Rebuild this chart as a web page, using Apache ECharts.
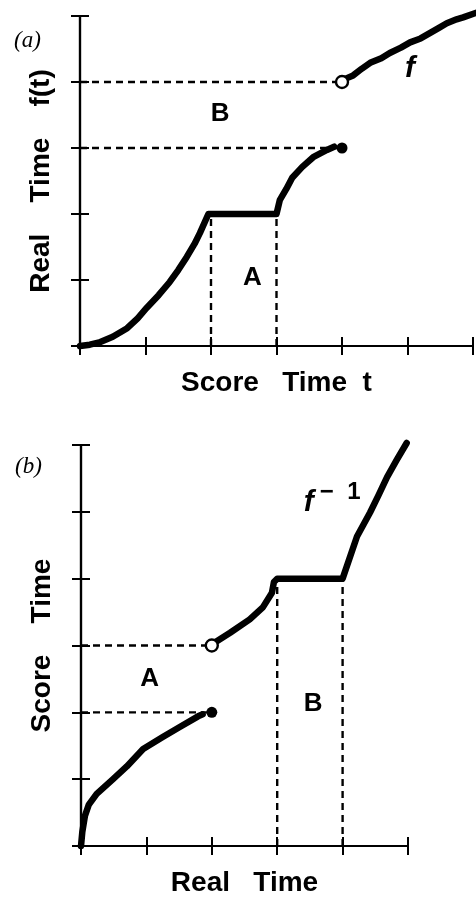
<!DOCTYPE html>
<html><head><meta charset="utf-8">
<script src="https://cdn.jsdelivr.net/npm/echarts@6/dist/echarts.min.js"></script>
<style>html,body{margin:0;padding:0;background:#fff}#c{width:476px;height:898px}</style>
</head><body><div id="c"></div>
<script>
// ---- Panel (a): f(t), Real Time vs Score Time ----
const aCurveLow = [[0,0],[0.15,0.02],[0.31,0.06],[0.5,0.14],[0.72,0.27],[0.88,0.42],[1.02,0.58],[1.2,0.77],[1.37,0.97],[1.5,1.15],[1.63,1.35],[1.75,1.55],[1.83,1.71],[1.96,2.0],[3.0,2.0],[3.05,2.21],[3.15,2.38],[3.24,2.55],[3.39,2.71],[3.56,2.86],[3.77,2.97],[3.88,3.02]];
const aCurveHigh = [[4.03,4.04],[4.17,4.1],[4.3,4.2],[4.43,4.29],[4.6,4.36],[4.73,4.44],[4.9,4.52],[5.04,4.6],[5.2,4.66],[5.34,4.74],[5.48,4.82],[5.6,4.89],[5.75,4.95],[5.85,4.98],[6.05,5.05]];
const aFilled = [[4,3]];
const aOpen = [[4,4]];
const aGuides = [[[0,4],[4,4]],[[0,3],[4,3]],[[2,0],[2,2]],[[3,0],[3,2]]];
const aLabels = [{pos:[2.14,3.52],text:'B'},{pos:[2.63,1.03],text:'A'}];
const aFuncLabel = {pos:[5.04,4.2],text:'f'};
const aXTicks = [0,6,1];   // min, max, interval
const aYTicks = [0,5,1];
const aXName = 'Score   Time  t';
const aYName = 'Real    Time    f(t)';

// ---- Panel (b): f^-1, Score Time vs Real Time ----
const bCurveLow = [[0,0],[0.02,0.21],[0.06,0.45],[0.12,0.62],[0.24,0.78],[0.49,1.0],[0.7,1.19],[0.95,1.45],[1.25,1.63],[1.51,1.78],[1.79,1.94],[1.86,1.97]];
const bCurveHigh = [[2.04,3.04],[2.28,3.19],[2.58,3.39],[2.78,3.57],[2.92,3.79],[2.95,3.95],[3.0,4.0],[4.0,4.0],[4.22,4.63],[4.42,4.99],[4.55,5.25],[4.68,5.52],[4.83,5.78],[4.98,6.03]];
const bFilled = [[2,2]];
const bOpen = [[2,3]];
const bGuides = [[[0,3],[2,3]],[[0,2],[2,2]],[[3,0],[3,4]],[[4,0],[4,4]]];
const bLabels = [{pos:[1.05,2.5],text:'A'},{pos:[3.55,2.12],text:'B'}];
const bFuncLabel = {pos:[3.84,5.14],text:'f'};
const bXTicks = [0,5,1];
const bYTicks = [0,6,1];
const bXName = 'Real   Time';
const bYName = 'Score    Time';

const FONT = 'Liberation Sans';
const nameStyle = {fontFamily: FONT, fontWeight: 'bold', fontSize: 28, color: '#000'};

function axesFor(grid, xt, yt, xName, yName) {
  const xBase = {type:'value', gridIndex: grid, min: xt[0], max: xt[1], interval: xt[2], position:'bottom',
    axisLabel:{show:false}, splitLine:{show:false}};
  const yBase = {type:'value', gridIndex: grid, min: yt[0], max: yt[1], interval: yt[2], position:'left',
    axisLabel:{show:false}, splitLine:{show:false}};
  const line = {show:true, lineStyle:{color:'#000', width:2.2}};
  const xs = [
    Object.assign({}, xBase, {axisLine: line,
      axisTick:{show:true, inside:false, length:9, lineStyle:{color:'#000', width:2}},
      name: xName, nameLocation:'middle', nameGap: 23, nameTextStyle: Object.assign({verticalAlign:'top'}, nameStyle)}),
    Object.assign({}, xBase, {axisLine: line,
      axisTick:{show:true, inside:true, length:9, lineStyle:{color:'#000', width:2}}})
  ];
  const ys = [
    Object.assign({}, yBase, {axisLine: line,
      axisTick:{show:true, inside:false, length:9, lineStyle:{color:'#000', width:2}},
      name: yName, nameLocation:'middle', nameGap: 25, nameTextStyle: nameStyle}),
    Object.assign({}, yBase, {axisLine: line,
      axisTick:{show:true, inside:true, length:9, lineStyle:{color:'#000', width:2}}})
  ];
  return {xs, ys};
}

const A = axesFor(0, aXTicks, aYTicks, aXName, aYName);
const B = axesFor(1, bXTicks, bYTicks, bXName, bYName);

const series = [];
function addPanel(xi, yi, guides, low, high, filled, open, labels, funcLabel, rich) {
  guides.forEach(g => series.push({type:'line', xAxisIndex: xi, yAxisIndex: yi, data: g, symbol:'none',
    lineStyle:{color:'#000', width:2.4, type:[7,5]}, z:2, silent:true, animation:false}));
  [low, high].forEach(c => series.push({type:'line', xAxisIndex: xi, yAxisIndex: yi, data: c, symbol:'none',
    clip:false, lineStyle:{color:'#000', width:6.5, cap:'round', join:'round'}, z:4, animation:false}));
  series.push({type:'scatter', xAxisIndex: xi, yAxisIndex: yi, data: filled, symbol:'circle', symbolSize: 11,
    itemStyle:{color:'#000', opacity:1}, z:5, animation:false});
  series.push({type:'scatter', xAxisIndex: xi, yAxisIndex: yi, data: open, symbol:'circle', symbolSize: 12,
    itemStyle:{color:'#fff', borderColor:'#000', borderWidth:2.4, opacity:1}, z:6, animation:false});
  series.push({type:'scatter', xAxisIndex: xi, yAxisIndex: yi, symbolSize: 0, animation:false, itemStyle:{opacity:1},
    data: labels.map(l => ({value: l.pos, name: l.text})),
    label:{show:true, position:'inside', formatter: p => p.name, fontFamily: FONT, fontWeight:'bold', fontSize: 26, color:'#000'}});
  series.push({type:'scatter', xAxisIndex: xi, yAxisIndex: yi, symbolSize: 0, animation:false, itemStyle:{opacity:1},
    data: [{value: funcLabel.pos, name: funcLabel.text}],
    label:{show:true, position:'inside', formatter: rich ? '{f|f}{s|−  1}' : '{f|f}', color:'#000',
      rich:{f:{fontFamily: FONT, fontWeight:'bold', fontStyle:'italic', fontSize: 30, color:'#000'},
            s:{fontFamily: FONT, fontWeight:'bold', fontSize: 24, color:'#000', padding:[0,0,20,6]}}}});
}
addPanel(0, 0, aGuides, aCurveLow, aCurveHigh, aFilled, aOpen, aLabels, aFuncLabel, false);
addPanel(2, 2, bGuides, bCurveLow, bCurveHigh, bFilled, bOpen, bLabels, bFuncLabel, true);

const chart = echarts.init(document.getElementById('c'), null, {renderer:'canvas'});
chart.setOption({
  backgroundColor:'#fff',
  animation:false,
  title:[
    {text:'(a)', left: 9, top: 24, textStyle:{fontFamily:'Liberation Serif', fontStyle:'italic', fontWeight:'normal', fontSize: 23, color:'#000'}},
    {text:'(b)', left: 10, top: 450, textStyle:{fontFamily:'Liberation Serif', fontStyle:'italic', fontWeight:'normal', fontSize: 23, color:'#000'}}
  ],
  grid:[
    {left: 80, top: 16, width: 393, height: 330},
    {left: 81, top: 445, width: 327, height: 402}
  ],
  xAxis: A.xs.concat(B.xs),
  yAxis: A.ys.concat(B.ys),
  series
});
</script></body></html>
